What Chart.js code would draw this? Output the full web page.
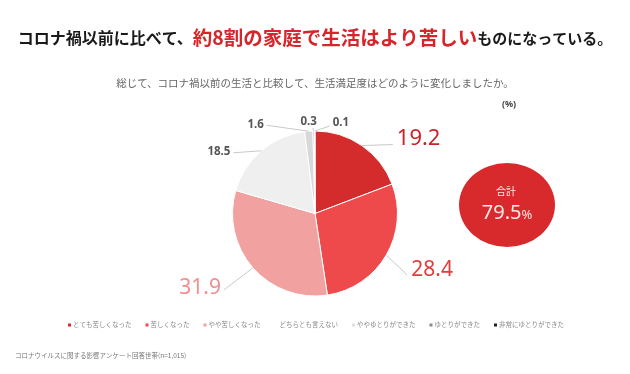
<!DOCTYPE html>
<html>
<head>
<meta charset="utf-8">
<script src="https://cdn.jsdelivr.net/npm/chart.js@4.4.1/dist/chart.umd.min.js"></script>
<style>
  html, body { margin: 0; padding: 0; background: #fff; }
  #wrap { width: 630px; height: 374px; }
</style>
</head>
<body>
<div id="wrap"><canvas id="myChart" width="630" height="374"></canvas></div>
<script>
const categories = ["とても苦しくなった", "苦しくなった", "やや苦しくなった", "どちらとも言えない", "ややゆとりができた", "ゆとりができた", "非常にゆとりができた"];
const shares = [19.2, 28.4, 31.9, 18.5, 1.6, 0.3, 0.1];
const harderCount = 3; // first three answers make up the "合計"

const titleParts = [
  { text: "コロナ禍以前に比べて、", color: "#1a1a1a", size: 16 },
  { text: "約8割の家庭で生活はより苦しい", color: "#d7262b", size: 19.5 },
  { text: "ものになっている。", color: "#1a1a1a", size: 15 }
];
const subtitle = "総じて、コロナ禍以前の生活と比較して、生活満足度はどのように変化しましたか。";
const unitText = "(%)";
const footnote = "コロナウイルスに関する影響アンケート回答世帯(n=1,015)";

const colors = ["#d42b2d", "#ee4a4b", "#f2a1a1", "#efefef", "#d8d8d8", "#bdbdbd", "#555555"];
const legendColors = ["#d42b2d", "#ee4a4b", "#f2a1a1", "#ffffff", "#e0e0e0", "#8a8a8a", "#222222"];

// leader end (dx,dy from slice edge), text offset from leader end, look
const labelStyle = [
  { dx: 31, dy: -1, tx: 4, ty: -6, align: "left", size: 22, color: "#cc2229" },
  { dx: 21, dy: 20, tx: 4, ty: -5, align: "left", size: 21, color: "#e13d3f" },
  { dx: -29, dy: 22, tx: -3, ty: -2, align: "right", size: 21, color: "#ef8f90" },
  { dx: -28, dy: 2, tx: -3, ty: -1, align: "right", size: 11.5, color: "#555" },
  { dx: -42, dy: -6, tx: -3, ty: -1, align: "right", size: 11.5, color: "#555" },
  { dx: -1, dy: -3, tx: -4, ty: -6, align: "center", size: 11.5, color: "#555" },
  { dx: 15, dy: -5, tx: 3, ty: -3, align: "left", size: 11.5, color: "#555" }
];

const JP = '"Noto Sans CJK JP", sans-serif';
const NUM = '"Noto Sans", "Open Sans", sans-serif';

const decor = {
  id: "decor",
  afterDraw(chart) {
    const c = chart.ctx;
    c.save();
    c.textBaseline = "middle";

    // title
    let total = 0;
    titleParts.forEach(p => { c.font = "bold " + p.size + "px " + JP; total += c.measureText(p.text).width; });
    let x = 315 - total / 2;
    c.textAlign = "left";
    titleParts.forEach(p => {
      c.font = "bold " + p.size + "px " + JP;
      c.fillStyle = p.color;
      c.fillText(p.text, x, 38);
      x += c.measureText(p.text).width;
    });

    c.font = "10.5px " + JP;
    c.fillStyle = "#666";
    c.textAlign = "center";
    c.fillText(subtitle, 315, 83);
    c.font = "bold 9px " + NUM;
    c.fillStyle = "#444";
    c.fillText(unitText, 509, 104);

    // slice labels with leaders
    const meta = chart.getDatasetMeta(0);
    meta.data.forEach((arc, i) => {
      const st = labelStyle[i];
      const mid = (arc.startAngle + arc.endAngle) / 2;
      const ex = arc.x + Math.cos(mid) * arc.outerRadius;
      const ey = arc.y + Math.sin(mid) * arc.outerRadius;
      const lx = ex + st.dx, ly = ey + st.dy;
      c.strokeStyle = "#c9c9c9";
      c.lineWidth = 1;
      c.beginPath();
      c.moveTo(ex, ey);
      c.lineTo(lx, ly);
      c.stroke();
      c.font = (st.size > 15 ? "" : "bold ") + st.size + "px " + NUM;
      c.fillStyle = st.color;
      c.textAlign = st.align;
      c.fillText(shares[i].toFixed(1), lx + st.tx, ly + st.ty);
    });

    // total bubble
    const sum = shares.slice(0, harderCount).reduce((a, b) => a + b, 0);
    c.fillStyle = "#d8292c";
    c.beginPath();
    c.ellipse(507, 205, 48, 42, 0, 0, Math.PI * 2);
    c.fill();
    c.fillStyle = "#fde8e8";
    c.textAlign = "center";
    c.font = "10px " + JP;
    c.fillText("合計", 506, 191);
    c.font = "20px " + NUM;
    const num = sum.toFixed(1);
    const nw = c.measureText(num).width;
    c.font = "13px " + NUM;
    const pw = c.measureText("%").width;
    const sx = 507 - (nw + pw) / 2;
    c.textAlign = "left";
    c.font = "20px " + NUM;
    c.fillText(num, sx, 213);
    c.font = "13px " + NUM;
    c.fillText("%", sx + nw, 215);

    // legend
    c.font = "6.5px " + JP;
    const gap = 14, box = 3, boxGap = 2;
    let lw = 0;
    categories.forEach(t => { lw += box + boxGap + c.measureText(t).width; });
    lw += gap * (categories.length - 1);
    let lx = 316 - lw / 2;
    categories.forEach((t, i) => {
      c.fillStyle = legendColors[i];
      c.fillRect(lx, 325 - box / 2, box, box);
      lx += box + boxGap;
      c.fillStyle = "#888";
      c.fillText(t, lx, 325);
      lx += c.measureText(t).width + gap;
    });

    // footnote
    c.font = "6.5px " + JP;
    c.fillStyle = "#777";
    c.fillText(footnote, 15, 356);
    c.restore();
  }
};

const ctx = document.getElementById("myChart").getContext("2d");

const myChart = new Chart(ctx, {
  type: "pie",
  data: {
    labels: categories,
    datasets: [{
      data: shares,
      backgroundColor: colors,
      borderColor: "#ffffff",
      borderWidth: 1
    }]
  },
  options: {
    responsive: false,
    animation: false,
    layout: { padding: { top: 130, bottom: 77, left: 232, right: 232 } },
    plugins: {
      legend: { display: false },
      tooltip: { enabled: false }
    }
  },
  plugins: [decor]
});
</script>
</body>
</html>
